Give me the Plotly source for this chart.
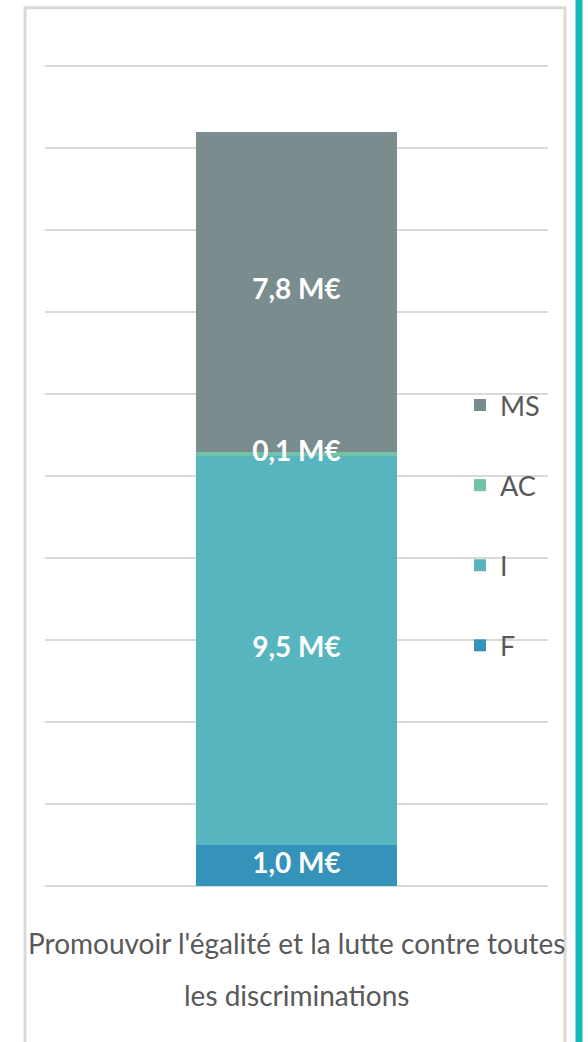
import plotly.graph_objects as go

# Funding of the programme, split by expense type (M€)
category = ["Promouvoir l'égalité et la lutte contre toutes les discriminations"]
category_lines = ["Promouvoir l'égalité et la lutte contre toutes", "les discriminations"]
series = ["F", "I", "AC", "MS"]
values_f = [1.0]
values_i = [9.5]
values_ac = [0.1]
values_ms = [7.8]
colors = ["#3592B8", "#57B5BF", "#72C2A6", "#7A8C8E"]

y_ticks = [0, 2, 4, 6, 8, 10, 12, 14, 16, 18, 20]

FONT = "Lato, sans-serif"
GRID = "#D9D9D9"
TEXT = "#595959"


def fmt(v):
    return f"{v:.1f}".replace(".", ",") + " M€"


all_values = [values_f, values_i, values_ac, values_ms]

fig = go.Figure()
for rank, (name, vals, col) in enumerate(zip(series, all_values, colors)):
    fig.add_trace(go.Bar(
        x=category, y=vals, name=name, legendgroup=name,
        legendrank=len(series) - rank,
        marker=dict(color=col, line=dict(width=0)),
        hoverinfo="skip",
    ))

# value labels centred in each stacked segment, drawn above all bars
label_y, label_text, base = [], [], 0.0
for vals in all_values:
    label_y.append(base + vals[0] / 2)
    label_text.append(fmt(vals[0]))
    base += vals[0]
fig.add_trace(go.Scatter(
    x=category * len(label_y), y=label_y, text=label_text,
    mode="text", textposition="middle center", showlegend=False,
    textfont=dict(family=FONT, size=28, color="white", weight="bold"),
    hoverinfo="skip",
))

# category label, two lines under the bar
for line, ypos in zip(category_lines, [-0.0685, -0.131]):
    fig.add_annotation(
        x=category[0], xref="x", y=ypos, yref="paper",
        text=line, showarrow=False, yanchor="middle", xanchor="center",
        font=dict(family=FONT, size=28, color=TEXT),
    )

# chart frame and the accent rule at the right edge
fig.add_shape(type="rect", xref="paper", yref="paper",
              x0=-0.0398, x1=1.0338, y0=-0.25, y1=1.0555,
              line=dict(color="#D9D9D9", width=3), fillcolor="rgba(0,0,0,0)",
              layer="below")
fig.add_shape(type="line", xref="paper", yref="paper",
              x0=1.0616, x1=1.0616, y0=-0.25, y1=1.1,
              line=dict(color="#10B9B6", width=7))

fig.update_layout(
    width=588, height=1042,
    margin=dict(l=45, r=40, t=54, b=156),
    paper_bgcolor="white", plot_bgcolor="white",
    barmode="stack", bargap=0.6,
    showlegend=True,
    legend=dict(
        x=0.825, xanchor="left", y=0.607, yanchor="top",
        traceorder="grouped", tracegroupgap=42,
        font=dict(family=FONT, size=27, color=TEXT),
        itemwidth=30, bgcolor="rgba(0,0,0,0)",
    ),
    xaxis=dict(type="category", range=[-0.5, 0.5], showticklabels=False,
               showgrid=False, zeroline=False, showline=False, ticks=""),
    yaxis=dict(range=[0, 20.3], tickvals=y_ticks, showticklabels=False,
               showgrid=True, gridcolor=GRID, gridwidth=2,
               zeroline=True, zerolinecolor=GRID, zerolinewidth=2,
               showline=False, ticks=""),
)

fig.write_html("out.html")
